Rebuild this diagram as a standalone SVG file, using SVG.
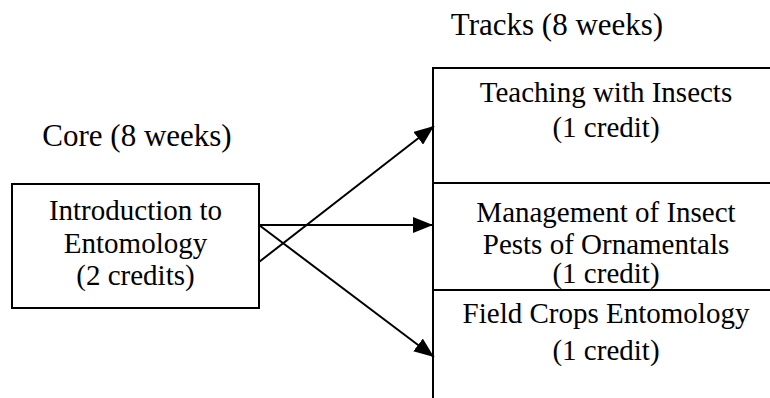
<svg xmlns="http://www.w3.org/2000/svg" width="770" height="398" viewBox="0 0 770 398">
<style>
.box{fill:#fff;stroke:#000;stroke-width:2}
text{font-family:'Liberation Serif','Times New Roman',Times,'DejaVu Serif',serif;fill:#000;text-anchor:middle}
.t{font-size:29px}
.lbl{font-size:31px}
.edge{stroke:#000;stroke-width:2;fill:none;marker-end:url(#ah)}
</style>
<defs>
<marker id="ah" markerUnits="userSpaceOnUse" markerWidth="20" markerHeight="16" viewBox="0 0 20 16" refX="20" refY="8" orient="auto">
<path d="M0,0 L20,8 L0,16 Z" fill="#000"/>
</marker>
</defs>
<rect width="770" height="398" fill="#fff"/>
<text class="lbl" x="137" y="146" font-family="Liberation Serif, serif">Core (8 weeks)</text>
<text class="lbl" x="557" y="35" font-family="Liberation Serif, serif">Tracks (8 weeks)</text>
<g id="intro">
<rect class="box" x="12" y="184" width="247" height="124"/>
<text class="t" x="135.5" y="220">Introduction to</text>
<text class="t" x="135.5" y="253">Entomology</text>
<text class="t" x="135.5" y="285">(2 credits)</text>
</g>
<g id="teaching">
<rect class="box" x="433" y="68" width="346" height="115"/>
<text class="t" x="606" y="102">Teaching with Insects</text>
<text class="t" x="606" y="137">(1 credit)</text>
</g>
<g id="management">
<rect class="box" x="433" y="183" width="346" height="107"/>
<text class="t" x="606" y="222">Management of Insect</text>
<text class="t" x="606" y="254">Pests of Ornamentals</text>
<text class="t" x="606" y="283">(1 credit)</text>
</g>
<g id="fieldcrops">
<rect class="box" x="433" y="290" width="346" height="120"/>
<text class="t" x="606" y="323">Field Crops Entomology</text>
<text class="t" x="606" y="360">(1 credit)</text>
</g>
<g id="connectors">
<line class="edge" x1="259" y1="225" x2="433" y2="225"/>
<line class="edge" x1="259" y1="262" x2="434" y2="126"/>
<line class="edge" x1="259" y1="225" x2="434" y2="357"/>
</g>
</svg>
